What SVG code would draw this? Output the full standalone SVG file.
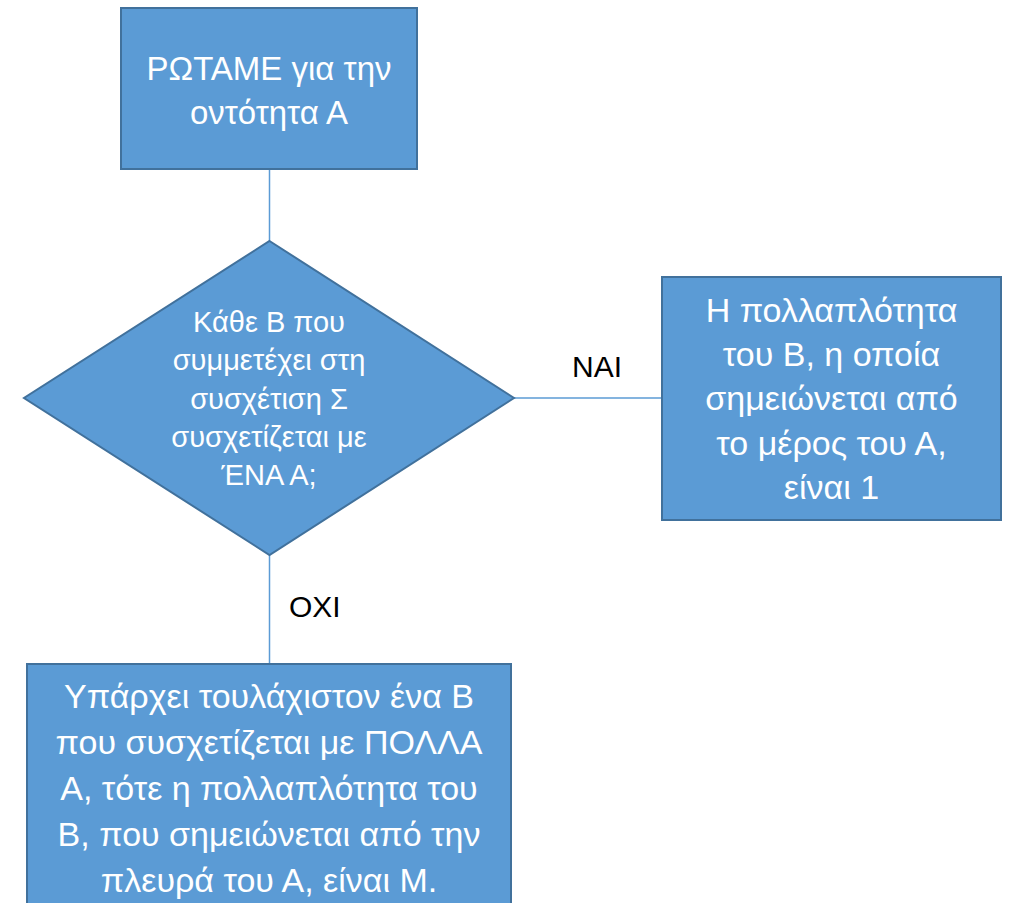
<svg xmlns="http://www.w3.org/2000/svg" width="1015" height="903" viewBox="0 0 1015 903">
<style>
.shape{fill:#5B9BD5;stroke:#41719C;stroke-width:2}
.t{font-family:"Liberation Sans","DejaVu Sans",sans-serif;fill:#FFFFFF;text-anchor:middle}
.lbl{font-family:"Liberation Sans","DejaVu Sans",sans-serif;fill:#000000;font-size:30px}
.conn{stroke:#5B9BD5;stroke-width:1.5;fill:none}
</style>
<rect width="1015" height="903" fill="#FFFFFF"/>
<g id="connectors">
<line class="conn" x1="269.5" y1="170" x2="269.5" y2="241"/>
<line class="conn" x1="514" y1="398" x2="662" y2="398"/>
<line class="conn" x1="269.5" y1="555" x2="269.5" y2="664"/>
<text class="lbl" x="572" y="377">ΝΑΙ</text>
<text class="lbl" x="289" y="617">ΟΧΙ</text>
</g>
<g id="start">
<rect class="shape" x="121" y="8" width="296" height="161"/>
<text class="t" font-size="33" x="269" y="80">ΡΩΤΑΜΕ για την</text>
<text class="t" font-size="33" x="269" y="124">οντότητα Α</text>
</g>
<g id="decision">
<polygon class="shape" points="269.5,241 514,398 269.5,555 24,398"/>
<text class="t" font-size="29" x="269" y="332">Κάθε Β που</text>
<text class="t" font-size="29" x="269" y="370">συμμετέχει στη</text>
<text class="t" font-size="29" x="269" y="409">συσχέτιση Σ</text>
<text class="t" font-size="29" x="269" y="447">συσχετίζεται με</text>
<text class="t" font-size="29" x="269" y="485">ΈΝΑ Α;</text>
</g>
<g id="yes">
<rect class="shape" x="662" y="277" width="339" height="243"/>
<text class="t" font-size="34" x="831.5" y="322">Η πολλαπλότητα</text>
<text class="t" font-size="34" x="831.5" y="366">του Β, η οποία</text>
<text class="t" font-size="34" x="831.5" y="410">σημειώνεται από</text>
<text class="t" font-size="34" x="831.5" y="455">το μέρος του Α,</text>
<text class="t" font-size="34" x="831.5" y="499">είναι 1</text>
</g>
<g id="no">
<rect class="shape" x="27" y="664" width="484" height="260"/>
<text class="t" font-size="34" x="269" y="708">Υπάρχει τουλάχιστον ένα Β</text>
<text class="t" font-size="34" x="269" y="754">που συσχετίζεται με ΠΟΛΛΑ</text>
<text class="t" font-size="34" x="269" y="800">Α, τότε η πολλαπλότητα του</text>
<text class="t" font-size="34" x="269" y="846">Β, που σημειώνεται από την</text>
<text class="t" font-size="34" x="269" y="892">πλευρά του Α, είναι Μ.</text>
</g>
</svg>
